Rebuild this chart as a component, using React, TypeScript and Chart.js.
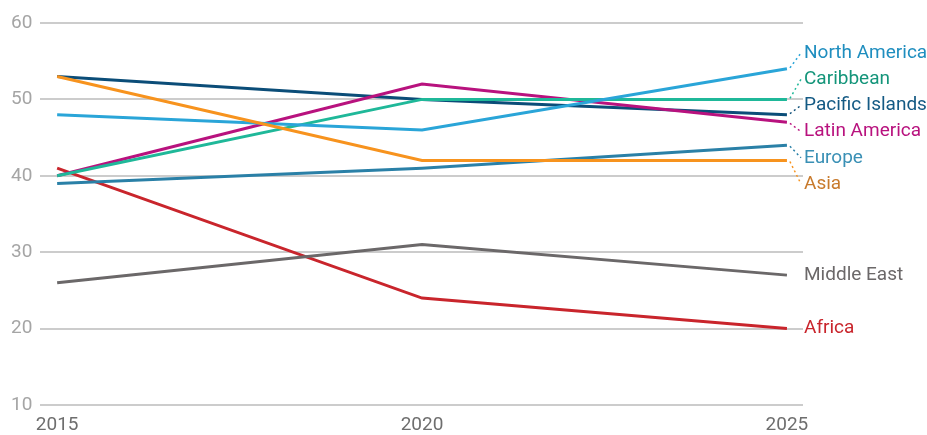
import React, { useEffect, useRef } from "react";
import { Chart, registerables } from "chart.js";

Chart.register(...registerables);

const years = [2015, 2020, 2025];
const yTicks = [10, 20, 30, 40, 50, 60];

const seriesNames = [
  "Asia",
  "Europe",
  "North America",
  "Caribbean",
  "Latin America",
  "Pacific Islands",
  "Middle East",
  "Africa",
];

const asia = [53, 42, 42];
const europe = [39, 41, 44];
const northAmerica = [48, 46, 54];
const caribbean = [40, 50, 50];
const latinAmerica = [40, 52, 47];
const pacificIslands = [53, 50, 48];
const middleEast = [26, 31, 27];
const africa = [41, 24, 20];

const seriesValues = [asia, europe, northAmerica, caribbean, latinAmerica, pacificIslands, middleEast, africa];

const lineColors = ["#f7931e", "#2a80a7", "#2aa5d8", "#1fb899", "#b8127e", "#0b4d78", "#6b6869", "#c9252c"];
const labelColors = ["#c87a2c", "#3a90b5", "#1f8ebf", "#14957a", "#b8127e", "#145a84", "#6b6869", "#c9252c"];

const FONT = "Roboto, 'Noto Sans', sans-serif";

const xLabels = {
  id: "xLabels",
  afterDraw(chart: any) {
    const ctx = chart.ctx;
    const xs = chart.scales.x;
    const area = chart.chartArea;
    ctx.save();
    ctx.fillStyle = "#6e6e6e";
    ctx.font = `19px ${FONT}`;
    ctx.textAlign = "center";
    ctx.textBaseline = "middle";
    years.forEach((y) => {
      ctx.fillText(String(y), xs.getPixelForValue(y), area.bottom + 20);
    });
    ctx.restore();
  },
};

const endLabels = {
  id: "endLabels",
  afterDatasetsDraw(chart: any) {
    const ctx = chart.ctx;
    const area = chart.chartArea;
    const items: any[] = [];
    chart.data.datasets.forEach((ds: any, i: number) => {
      const meta = chart.getDatasetMeta(i);
      const pt = meta.data[meta.data.length - 1];
      items.push({ i, x: pt.x, y: pt.y, ly: pt.y, text: ds.label });
    });
    const gap = 26.2;
    items.sort((a, b) => a.y - b.y);
    let groups = items.map((it) => ({ members: [it], center: it.y }));
    let changed = true;
    while (changed) {
      changed = false;
      for (let g = 0; g < groups.length - 1; g++) {
        const a = groups[g];
        const b = groups[g + 1];
        const aBottom = a.center + ((a.members.length - 1) * gap) / 2;
        const bTop = b.center - ((b.members.length - 1) * gap) / 2;
        if (bTop - aBottom < gap) {
          const members = a.members.concat(b.members);
          const center = members.reduce((s: number, m: any) => s + m.y, 0) / members.length;
          groups.splice(g, 2, { members, center });
          changed = true;
          break;
        }
      }
    }
    groups.forEach((g) => {
      g.members.forEach((m: any, k: number) => {
        m.ly = g.center + (k - (g.members.length - 1) / 2) * gap;
      });
    });
    ctx.save();
    const lx = area.right + 1;
    items.forEach((it) => {
      const col = labelColors[it.i];
      if (Math.abs(it.ly - it.y) > 2) {
        ctx.beginPath();
        ctx.setLineDash([2, 3]);
        ctx.lineWidth = 1.5;
        ctx.strokeStyle = lineColors[it.i];
        ctx.moveTo(it.x + 3, it.y + (it.ly > it.y ? 1 : -1));
        ctx.lineTo(lx - 3, it.ly);
        ctx.stroke();
        ctx.setLineDash([]);
      }
      ctx.fillStyle = col;
      ctx.font = `19px ${FONT}`;
      ctx.textAlign = "left";
      ctx.textBaseline = "middle";
      ctx.fillText(it.text, lx, it.ly);
    });
    ctx.restore();
  },
};

export default function App() {
  const ref = useRef<HTMLCanvasElement | null>(null);
  useEffect(() => {
    document.body.style.margin = "0";
    const canvas = ref.current;
    if (!canvas) return;
    const chart = new Chart(canvas, {
      type: "line",
      data: {
        datasets: seriesNames.map((name, i) => ({
          label: name,
          data: years.map((y, j) => ({ x: y, y: seriesValues[i][j] })),
          borderColor: lineColors[i],
          backgroundColor: lineColors[i],
          borderWidth: 3,
          pointRadius: 0,
          tension: 0,
          fill: false,
        })),
      },
      options: {
        animation: false,
        responsive: true,
        maintainAspectRatio: false,
        layout: { padding: { left: 3, right: 124, top: 23, bottom: 30 } },
        plugins: { legend: { display: false }, tooltip: { enabled: false } },
        scales: {
          x: {
            type: "linear",
            min: 2014.77,
            max: 2025.22,
            ticks: { display: false },
            grid: { display: false, drawTicks: false },
            border: { display: false },
          },
          y: {
            min: 10,
            max: 60,
            afterBuildTicks: (scale: any) => {
              scale.ticks = yTicks.map((v) => ({ value: v }));
            },
            ticks: {
              color: "#a5a5a5",
              font: { family: FONT, size: 19 },
              padding: 8,
            },
            grid: { color: "#cccccc", lineWidth: 2, drawTicks: false },
            border: { display: false },
          },
        },
      },
      plugins: [endLabels, xLabels],
    });
    return () => chart.destroy();
  }, []);
  return (
    <div style={{ position: "relative", width: 927, height: 435 }}>
      <canvas ref={ref} />
    </div>
  );
}
